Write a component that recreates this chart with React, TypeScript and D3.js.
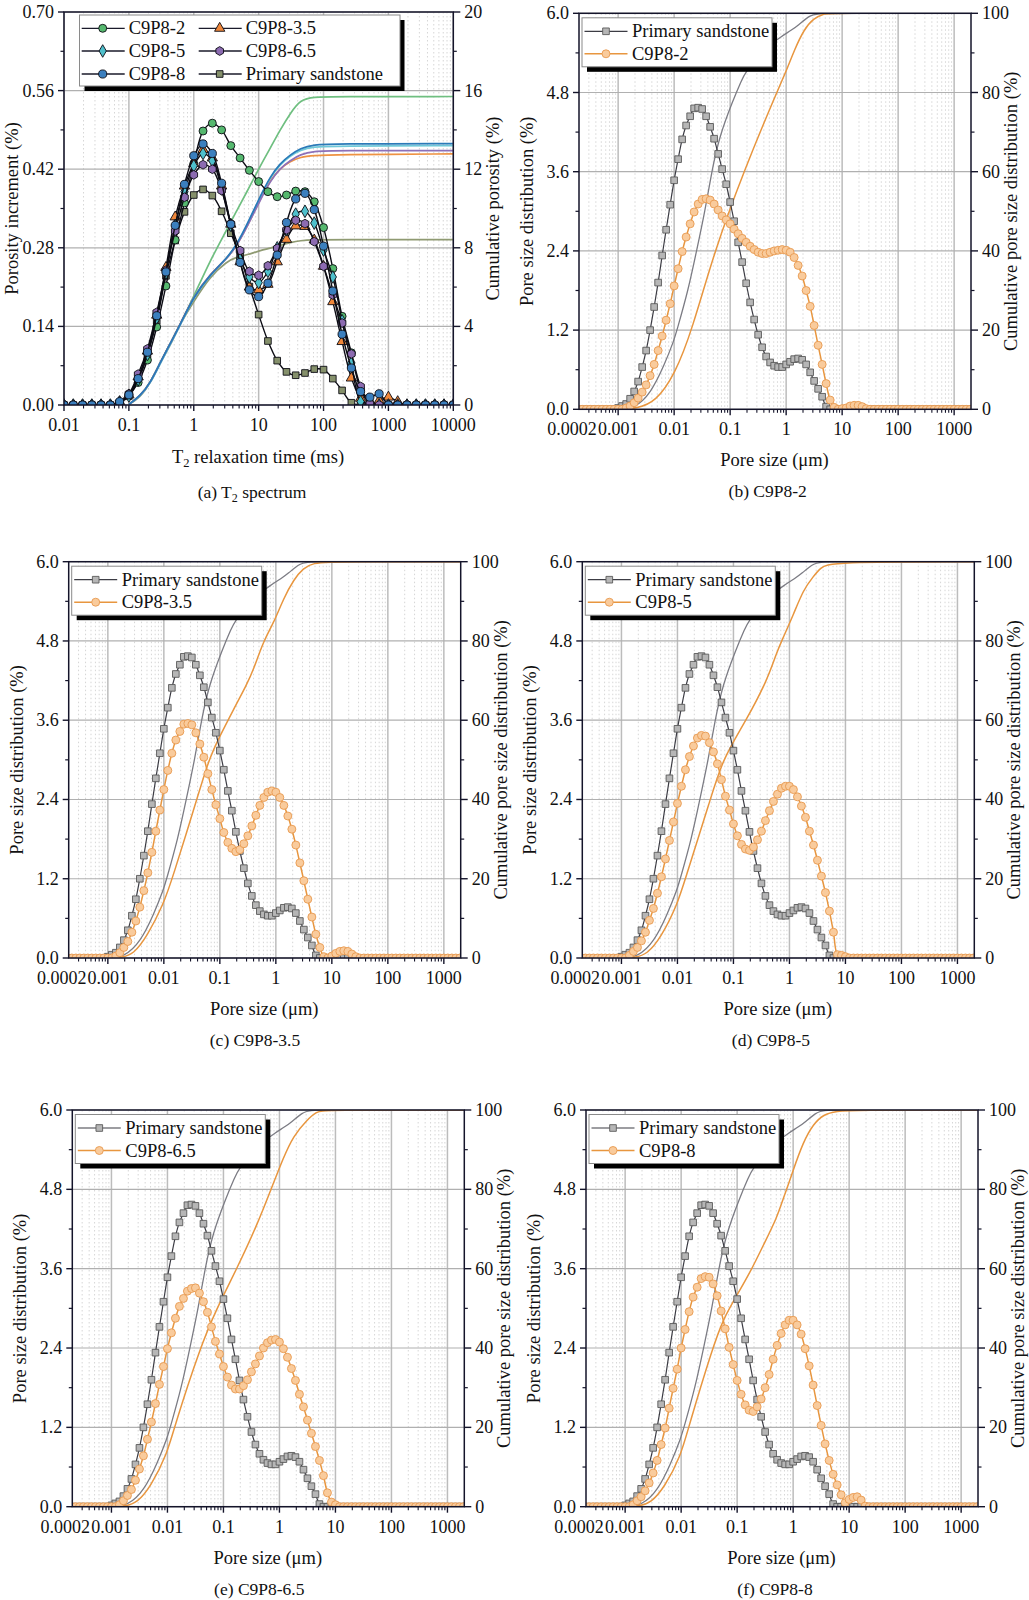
import React from "react";
import * as d3 from "d3";

// ---------- Panel (a) T2 spectrum ----------
const t2LogTime = [
  -2, -1.857, -1.714, -1.571, -1.429, -1.286, -1.143, -1, -0.857, -0.714, -0.571, -0.429, -0.286, -0.143,
  0, 0.143, 0.286, 0.429, 0.571, 0.714, 0.857, 1, 1.143, 1.286, 1.429, 1.571, 1.714, 1.857,
  2, 2.143, 2.286, 2.429, 2.571, 2.714, 2.857, 3, 3.143, 3.286, 3.429, 3.571, 3.714, 3.857, 4,
];
const incPrimary = [0,0,0,0,0,0,.004,.016,.045,.09,.15,.23,.293,.344,.374,.384,.373,.345,.306,.265,.211,.161,.114,.079,.059,.053,.057,.064,.063,.047,.026,.004,0,0,0,0,0,0,0,0,0,0,0];
const inc2 = [0,0,0,0,0,0,.005,.018,.04,.08,.139,.212,.294,.36,.43,.488,.502,.49,.462,.44,.418,.398,.38,.371,.374,.381,.38,.362,.316,.243,.158,.093,.027,.004,0,0,0,0,0,0,0,0,0];
const inc35 = [0,0,0,0,0,0,.006,.018,.05,.096,.16,.245,.335,.39,.43,.455,.44,.39,.322,.255,.21,.205,.215,.255,.295,.319,.318,.294,.247,.184,.113,.048,.012,0,.008,.014,.006,0,0,0,0,0,0];
const inc5 = [0,0,0,0,0,0,.005,.016,.045,.09,.155,.235,.32,.38,.426,.448,.435,.385,.32,.26,.228,.218,.238,.28,.312,.34,.345,.324,.276,.228,.15,.075,.006,0,0,0,0,0,0,0,0,0,0];
const inc65 = [0,0,0,0,0,0,.005,.02,.055,.1,.165,.24,.31,.37,.41,.428,.42,.382,.323,.275,.238,.231,.248,.279,.312,.329,.323,.291,.247,.196,.146,.091,.033,.002,0,0,0,0,0,0,0,0,0];
const inc8 = [0,0,0,0,0,0,.006,.018,.047,.094,.159,.237,.32,.393,.444,.465,.448,.395,.322,.254,.205,.193,.217,.267,.325,.367,.377,.348,.283,.203,.126,.066,.024,.014,.02,0,0,0,0,0,0,0,0];

const cumT2Log = [-1,-.83,-.67,-.52,-.36,-.21,0,.25,.51,.66,.82,1.02,1.18,1.33,1.49,1.64,1.85,2.16,4];
const cumT2Primary = [.03,.36,1.12,2.14,3.03,4.15,5.27,6.54,7.3,7.53,7.64,7.86,7.98,8.12,8.27,8.37,8.41,8.42,8.42];
const cumT22 = [.03,.44,1.12,2.14,3.15,4.1,5.53,7.34,8.92,9.88,10.85,12.14,13.07,14,14.85,15.53,15.68,15.69,15.7];
const cumT235 = [.03,.44,1.12,2.14,3.15,4.1,5.55,6.65,7.45,8.1,9.08,10.45,11.45,12.05,12.4,12.62,12.7,12.74,12.78];
const cumT25 = [.03,.42,1.08,2.08,3.1,4.05,5.5,6.6,7.45,8.12,9.12,10.55,11.58,12.25,12.68,12.98,13.15,13.18,13.2];
const cumT265 = [.03,.44,1.12,2.14,3.15,4.1,5.55,6.65,7.45,8.08,9.05,10.4,11.4,12.05,12.45,12.75,12.92,12.95,12.95];
const cumT28 = [.03,.44,1.12,2.14,3.15,4.08,5.53,6.63,7.47,8.15,9.17,10.6,11.63,12.3,12.73,13.07,13.25,13.29,13.3];

// ---------- Panels (b)-(f) pore size ----------
const poreLogSize = [
  -3.714,-3.643,-3.571,-3.5,-3.429,-3.357,-3.286,-3.214,-3.143,-3.071,
  -3,-2.929,-2.857,-2.786,-2.714,-2.643,-2.571,-2.5,-2.429,-2.357,
  -2.286,-2.214,-2.143,-2.071,-2,-1.929,-1.857,-1.786,-1.714,-1.643,
  -1.571,-1.5,-1.429,-1.357,-1.286,-1.214,-1.143,-1.071,-1,-.929,
  -.857,-.786,-.714,-.643,-.571,-.5,-.429,-.357,-.286,-.214,
  -.143,-.071,0,.071,.143,.214,.286,.357,.429,.5,
  .571,.643,.714,.786,.857,.929,1,1.071,1.143,1.214,
  1.286,1.357,1.429,1.5,1.571,1.643,1.714,1.786,1.857,1.929,
  2,2.071,2.143,2.214,2.286,2.357,2.429,2.5,2.571,2.643,
  2.714,2.786,2.857,2.929,3,3.071,3.143,3.214,3.286,
];
const psdPrimary = [
  0,0,0,0,0,0,0,0,0,0,
  .02,.05,.08,.16,.27,.42,.64,.89,1.2,1.55,
  1.92,2.33,2.72,3.1,3.47,3.79,4.09,4.3,4.44,4.56,
  4.57,4.55,4.44,4.28,4.1,3.87,3.64,3.41,3.14,2.85,
  2.53,2.23,1.91,1.62,1.36,1.13,.94,.8,.71,.66,
  .64,.64,.68,.72,.76,.77,.75,.68,.56,.43,
  .31,.19,.04,0,0,0,0,0,0,0,
  0,0,0,0,0,0,0,0,0,0,
  0,0,0,0,0,0,0,0,0,0,
  0,0,0,0,0,0,0,0,0,
];
const psd2 = [
  0,0,0,0,0,0,0,0,0,0,
  0,0,.02,.05,.1,.17,.26,.37,.51,.68,
  .89,1.11,1.35,1.6,1.87,2.13,2.39,2.61,2.81,2.99,
  3.11,3.18,3.19,3.17,3.11,3.02,2.93,2.87,2.81,2.73,
  2.66,2.59,2.53,2.47,2.42,2.38,2.36,2.36,2.38,2.4,
  2.41,2.42,2.41,2.38,2.3,2.18,2.02,1.8,1.56,1.27,
  .97,.68,.39,.14,.03,0,.01,.02,.05,.06,
  .06,.04,.01,0,0,0,0,0,0,0,
  0,0,0,0,0,0,0,0,0,0,
  0,0,0,0,0,0,0,0,0,
];
const psd35 = [
  0,0,0,0,0,0,0,0,0,0,
  0,0,.03,.08,.16,.25,.39,.56,.77,1.02,
  1.29,1.6,1.92,2.24,2.55,2.84,3.1,3.3,3.43,3.54,
  3.55,3.53,3.41,3.24,3.04,2.79,2.55,2.32,2.11,1.9,
  1.75,1.66,1.61,1.64,1.73,1.85,2,2.16,2.31,2.43,
  2.51,2.53,2.51,2.43,2.31,2.15,1.95,1.71,1.44,1.17,
  .89,.62,.36,.16,.02,0,.03,.07,.1,.11,
  .1,.06,.02,0,0,0,0,0,0,0,
  0,0,0,0,0,0,0,0,0,0,
  0,0,0,0,0,0,0,0,0,
];
const psd5 = [
  0,0,0,0,0,0,0,0,0,0,
  0,0,.04,.1,.16,.26,.39,.57,.75,.98,
  1.23,1.5,1.78,2.06,2.34,2.6,2.85,3.05,3.21,3.33,
  3.37,3.36,3.26,3.12,2.94,2.7,2.45,2.24,2.03,1.85,
  1.72,1.65,1.63,1.68,1.79,1.92,2.08,2.23,2.37,2.48,
  2.57,2.6,2.6,2.55,2.44,2.3,2.13,1.92,1.71,1.48,
  1.24,.99,.71,.39,.05,.04,.02,0,0,0,
  0,0,0,0,0,0,0,0,0,0,
  0,0,0,0,0,0,0,0,0,0,
  0,0,0,0,0,0,0,0,0,
];
const psd65 = [
  0,0,0,0,0,0,0,0,0,0,
  0,0,.03,.09,.17,.26,.4,.57,.77,1.02,
  1.28,1.56,1.85,2.12,2.39,2.63,2.85,3.03,3.15,3.26,
  3.3,3.31,3.23,3.1,2.94,2.72,2.5,2.31,2.12,1.96,
  1.84,1.78,1.78,1.83,1.92,2.04,2.16,2.28,2.4,2.48,
  2.52,2.53,2.49,2.39,2.26,2.09,1.91,1.7,1.51,1.31,
  1.11,.91,.7,.47,.21,.07,.03,0,0,0,
  0,0,0,0,0,0,0,0,0,0,
  0,0,0,0,0,0,0,0,0,0,
  0,0,0,0,0,0,0,0,0,
];
const psd8 = [
  0,0,0,0,0,0,0,0,0,0,
  0,0,.03,.09,.15,.24,.36,.51,.7,.94,
  1.19,1.49,1.79,2.08,2.4,2.68,2.95,3.17,3.32,3.45,
  3.48,3.47,3.37,3.19,2.96,2.69,2.41,2.15,1.91,1.7,
  1.54,1.46,1.44,1.51,1.63,1.8,2,2.23,2.44,2.62,
  2.75,2.82,2.82,2.75,2.61,2.39,2.13,1.84,1.53,1.23,
  .95,.7,.49,.33,.18,.06,.11,.14,.15,.1,
  .01,0,0,0,0,0,0,0,0,0,
  0,0,0,0,0,0,0,0,0,0,
  0,0,0,0,0,0,0,0,0,
];

const cumPrimaryLog = [-3.3,-3,-2.7,-2.42,-2.18,-2,-1.95,-1.75,-1.6,-1.45,-1.33,-1.19,-.95,-.8,-.72,-.5,-.3,-.1,.1,.22,.4,.55,1,3.3,3.3];
const cumPrimary = [0,0,.3,4,11,17.5,20,30,40,50,60,69,78,83,85.3,89,92,94,95.8,97,99.3,100,100,100,100];
const cum2Log = [-3.3,-3,-2.66,-2.33,-1.99,-1.68,-1.28,-.76,-.17,.02,.14,.32,.49,.67,.79,3.3,3.3];
const cum2 = [0,0,.2,1.9,8.7,20,40,60,80,86,90.5,96,98.7,99.9,100,100,100];
const cum35Log = [-3.3,-3,-2.75,-2.54,-2.3,-2,-1.85,-1.41,-1.2,-1,-.76,-.52,-.4,-.22,-.04,.14,.32,.49,.67,.97,1.27,3.3,3.3];
const cum35 = [0,0,.1,1,5.4,13.8,20,40,50,56,62.6,69,72.7,80,84.5,90.8,95.5,98.4,99.7,99.9,100,100,100];
const cum5Log = [-3.3,-3,-2.75,-2.54,-2.3,-2,-1.86,-1.41,-1.2,-.77,-.4,-.23,-.14,.07,.25,.43,.55,.73,3.3,3.3];
const cum5 = [0,0,.1,1,5,13.5,20,40,50,60,70,77,80,86.6,93,96.3,98.4,100,100,100];
const cum65Log = [-3.3,-3,-2.75,-2.54,-2.3,-2,-1.88,-1.42,-1.12,-.76,-.4,-.15,.07,.25,.49,.67,.79,3.3,3.3];
const cum65 = [0,0,.1,1,5,13.5,20,40,50,60,71,80,88,93.5,97.5,99.6,100,100,100];
const cum8Log = [-3.3,-3,-2.75,-2.54,-2.3,-2,-1.87,-1.44,-1.24,-1,-.77,-.53,-.29,-.17,-.09,-.02,.18,.36,.54,.78,1.08,3.3,3.3];
const cum8 = [0,0,.1,1,4.8,13,20,40,47.6,53.4,59,66,72.8,78,81,84,92,96.4,98.9,99.7,100,100,100];

const psdTicks = [0, 1.2, 2.4, 3.6, 4.8, 6.0];
const psdMinor = [0.6, 1.8, 3, 4.2, 5.4];
const pctTicks = [0, 20, 40, 60, 80, 100];
const pctMinor = [10, 30, 50, 70, 90];
const poreDecades = [0.001, 0.01, 0.1, 1, 10, 100, 1000];
const poreLabels = ["0.001", "0.01", "0.1", "1", "10", "100", "1000"];
const incTicks = [0, 0.14, 0.28, 0.42, 0.56, 0.7];
const incMinor = [0.07, 0.21, 0.35, 0.49, 0.63];
const cumPorTicks = [0, 4, 8, 12, 16, 20];
const cumPorMinor = [2, 6, 10, 14, 18];
const t2Decades = [0.01, 0.1, 1, 10, 100, 1000, 10000];
const t2Labels = ["0.01", "0.1", "1", "10", "100", "1000", "10000"];

const FONT = "'Liberation Serif','Times New Roman',serif";
const AX = "#14142a";

function minors(lo: number, hi: number) {
  const out: number[] = [];
  for (let e = Math.floor(Math.log10(lo)); e <= Math.ceil(Math.log10(hi)); e++) {
    for (const m of [2, 3, 4, 5, 6, 7, 8, 9]) {
      const v = m * 10 ** e;
      if (v > lo * 1.0001 && v < hi * 0.9999) out.push(v);
    }
  }
  return out;
}

const hexagon = {
  draw(ctx: any, size: number) {
    const r = Math.sqrt(size / 2.6);
    for (let k = 0; k < 6; k++) {
      const a = (k * Math.PI) / 3 - Math.PI / 2;
      const px = r * Math.cos(a), py = r * Math.sin(a);
      if (k === 0) ctx.moveTo(px, py); else ctx.lineTo(px, py);
    }
    ctx.closePath();
  },
};
const sym = (type: any, size: number) => d3.symbol().type(type).size(size)() as string;

function Frame(p: {
  id: string; left: number; right: number; top: number; bottom: number;
  x: any; yL: any; yR: any; decades: number[]; labels: string[]; domain: [number, number];
  lTicks: number[]; lMinor: number[]; rTicks: number[]; rMinor: number[]; lFmt: (v: number) => string;
  children: React.ReactNode;
}) {
  const { left, right, top, bottom, x, yL, yR } = p;
  const ms = minors(p.domain[0], p.domain[1]);
  return (
    <g>
      <clipPath id={p.id}><rect x={left} y={top} width={right - left} height={bottom - top} /></clipPath>
      {ms.map((v) => <line key={v} x1={x(v)} x2={x(v)} y1={top} y2={bottom} stroke="#d6d6d6" strokeWidth={1} strokeDasharray="1.5 2.5" />)}
      {p.decades.map((v) => <line key={v} x1={x(v)} x2={x(v)} y1={top} y2={bottom} stroke="#bcbcbc" strokeWidth={1.5} />)}
      {p.lTicks.map((v) => <line key={v} x1={left} x2={right} y1={yL(v)} y2={yL(v)} stroke="#b0b0b0" strokeWidth={1.2} />)}
      <g clipPath={`url(#${p.id})`}>{p.children}</g>
      <rect x={left} y={top} width={right - left} height={bottom - top} fill="none" stroke={AX} strokeWidth={1.5} />
      {p.lTicks.map((v) => (
        <g key={v}>
          <line x1={left - 6} x2={left} y1={yL(v)} y2={yL(v)} stroke={AX} strokeWidth={1.4} />
          <text x={left - 10} y={yL(v) + 6} textAnchor="end" fontSize={18} fontFamily={FONT} fill="#111">{p.lFmt(v)}</text>
        </g>
      ))}
      {p.lMinor.map((v) => <line key={v} x1={left - 3.5} x2={left} y1={yL(v)} y2={yL(v)} stroke={AX} strokeWidth={1.2} />)}
      {p.rTicks.map((v) => (
        <g key={v}>
          <line x1={right} x2={right + 7} y1={yR(v)} y2={yR(v)} stroke={AX} strokeWidth={1.4} />
          <text x={right + 11} y={yR(v) + 6} fontSize={18} fontFamily={FONT} fill="#111">{v}</text>
        </g>
      ))}
      {p.rMinor.map((v) => <line key={v} x1={right} x2={right + 3.5} y1={yR(v)} y2={yR(v)} stroke={AX} strokeWidth={1.2} />)}
      {p.decades.map((v, i) => (
        <g key={v}>
          <line x1={x(v)} x2={x(v)} y1={bottom} y2={bottom + 6} stroke={AX} strokeWidth={1.4} />
          <text x={x(v)} y={bottom + 26} textAnchor="middle" fontSize={18} fontFamily={FONT} fill="#111">{p.labels[i]}</text>
        </g>
      ))}
      {ms.map((v) => <line key={v} x1={x(v)} x2={x(v)} y1={bottom} y2={bottom + 3.5} stroke={AX} strokeWidth={1.1} />)}
    </g>
  );
}

function Panel(p: {
  id: string; left: number; top: number; bottom: number; name: string; caption: string; capDx: number;
  psd: number[]; cumLog: number[]; cum: number[];
}) {
  const { left, top, bottom } = p;
  const right = left + 392;
  const x = d3.scaleLog().domain([0.0002, 2000]).range([left, right]);
  const yL = d3.scaleLinear().domain([0, 6]).range([bottom, top]);
  const yR = d3.scaleLinear().domain([0, 100]).range([bottom, top]);
  const psdLine = d3.line<number>().x((_, i) => x(10 ** poreLogSize[i])).y((d) => yL(d)).curve(d3.curveCatmullRom);
  const cumLine = (xs: number[], ys: number[]) =>
    d3.line<number>().x((_, i) => x(10 ** xs[i])).y((d) => yR(d)).curve(d3.curveBasis)(ys) as string;
  const square = sym(d3.symbolSquare, 44);
  const circle = sym(d3.symbolCircle, 50);
  const cy = (top + bottom) / 2;
  const lx = left + 3, ly = top + 4.5;
  return (
    <g>
      <Frame id={p.id} left={left} right={right} top={top} bottom={bottom} x={x} yL={yL} yR={yR}
        decades={poreDecades} labels={poreLabels} domain={[0.0002, 2000]}
        lTicks={psdTicks} lMinor={psdMinor} rTicks={pctTicks} rMinor={pctMinor} lFmt={(v) => v.toFixed(1)}>
        <path d={cumLine(cumPrimaryLog, cumPrimary)} fill="none" stroke="#7c7c84" strokeWidth={1.3} />
        <path d={cumLine(p.cumLog, p.cum)} fill="none" stroke="#e8963f" strokeWidth={1.5} />
        <path d={psdLine(psdPrimary) as string} fill="none" stroke="#3c3c44" strokeWidth={1.2} />
        {psdPrimary.map((d, i) => (
          <path key={i} d={square} transform={`translate(${x(10 ** poreLogSize[i])},${yL(d)})`} fill="#b6b6b6" stroke="#5a5a5a" strokeWidth={0.9} />
        ))}
        <path d={psdLine(p.psd) as string} fill="none" stroke="#e8963f" strokeWidth={1.5} />
        {p.psd.map((d, i) => (
          <path key={i} d={circle} transform={`translate(${x(10 ** poreLogSize[i])},${yL(d)})`} fill="#f9cb9c" stroke="#e89a50" strokeWidth={0.9} />
        ))}
      </Frame>
      <text transform={`translate(${left - 46},${cy}) rotate(-90)`} textAnchor="middle" fontSize={18.5} fontFamily={FONT} fill="#111">Pore size distribution (%)</text>
      <text transform={`translate(${right + 46},${cy}) rotate(-90)`} textAnchor="middle" fontSize={18.5} fontFamily={FONT} fill="#111">Cumulative pore size distribution (%)</text>
      <text x={x(0.0002) - 7} y={bottom + 26} textAnchor="middle" fontSize={18} fontFamily={FONT} fill="#111">0.0002</text>
      <text x={left + 195.5} y={bottom + 57} textAnchor="middle" fontSize={18.5} fontFamily={FONT} fill="#111">Pore size (μm)</text>
      <text x={left + p.capDx} y={bottom + 88} textAnchor="middle" fontSize={17.5} fontFamily={FONT} fill="#111">{p.caption}</text>
      <rect x={lx + 5} y={ly + 5} width={190} height={49} fill="#000" />
      <rect x={lx} y={ly} width={190} height={49} fill="#fff" stroke="#8a8a8a" strokeWidth={1} />
      <line x1={lx + 2.5} x2={lx + 45.5} y1={ly + 13.5} y2={ly + 13.5} stroke="#3c3c44" strokeWidth={1.2} />
      <path d={square} transform={`translate(${lx + 24},${ly + 13.5})`} fill="#b6b6b6" stroke="#5a5a5a" strokeWidth={0.9} />
      <text x={lx + 50} y={ly + 19.5} fontSize={18.5} fontFamily={FONT} fill="#111">Primary sandstone</text>
      <line x1={lx + 2.5} x2={lx + 45.5} y1={ly + 36} y2={ly + 36} stroke="#e8963f" strokeWidth={1.5} />
      <path d={circle} transform={`translate(${lx + 24},${ly + 36})`} fill="#f9cb9c" stroke="#e89a50" strokeWidth={0.9} />
      <text x={lx + 50} y={ly + 42} fontSize={18.5} fontFamily={FONT} fill="#111">{p.name}</text>
    </g>
  );
}

const spectra = [
  { name: "Primary sandstone", inc: incPrimary, cum: cumT2Primary, fill: "#85906b", line: "#8f9a72", type: d3.symbolSquare, size: 44, col: 1, row: 2 },
  { name: "C9P8-2", inc: inc2, cum: cumT22, fill: "#55b86e", line: "#6fbf80", type: d3.symbolCircle, size: 50, col: 0, row: 0 },
  { name: "C9P8-3.5", inc: inc35, cum: cumT235, fill: "#f0873a", line: "#ee9242", type: d3.symbolTriangle, size: 46, col: 1, row: 0 },
  { name: "C9P8-5", inc: inc5, cum: cumT25, fill: "#4fc0cc", line: "#6fc8d8", type: d3.symbolDiamond, size: 46, col: 0, row: 1 },
  { name: "C9P8-6.5", inc: inc65, cum: cumT265, fill: "#8c6bb1", line: "#8d70b8", type: hexagon, size: 50, col: 1, row: 1 },
  { name: "C9P8-8", inc: inc8, cum: cumT28, fill: "#3b7fbe", line: "#2a7ab8", type: d3.symbolCircle, size: 52, col: 0, row: 2 },
];

function PanelA() {
  const left = 64, right = 453.3, top = 12, bottom = 405;
  const x = d3.scaleLog().domain([0.01, 10000]).range([left, right]);
  const yL = d3.scaleLinear().domain([0, 0.7]).range([bottom, top]);
  const yR = d3.scaleLinear().domain([0, 20]).range([bottom, top]);
  const incLine = d3.line<number>().x((_, i) => x(10 ** t2LogTime[i])).y((d) => yL(d)).curve(d3.curveCatmullRom);
  const cumLine = d3.line<number>().x((_, i) => x(10 ** cumT2Log[i])).y((d) => yR(d)).curve(d3.curveBasis);
  const cols = [81.7, 198.7];
  const rows = [28.3, 51, 74];
  return (
    <g>
      <Frame id="clipA" left={left} right={right} top={top} bottom={bottom} x={x} yL={yL} yR={yR}
        decades={t2Decades} labels={t2Labels} domain={[0.01, 10000]}
        lTicks={incTicks} lMinor={incMinor} rTicks={cumPorTicks} rMinor={cumPorMinor} lFmt={(v) => v.toFixed(2)}>
        {spectra.map((s) => <path key={s.name} d={cumLine(s.cum) as string} fill="none" stroke={s.line} strokeWidth={1.7} />)}
        {spectra.map((s) => (
          <g key={s.name}>
            <path d={incLine(s.inc) as string} fill="none" stroke="#0c0c14" strokeWidth={1.4} />
            {s.inc.map((d, i) => (
              <path key={i} d={sym(s.type, s.size)} transform={`translate(${x(10 ** t2LogTime[i])},${yL(d)})`} fill={s.fill} stroke="#0c0c14" strokeWidth={0.9} />
            ))}
          </g>
        ))}
      </Frame>
      <text transform={`translate(18,208.5) rotate(-90)`} textAnchor="middle" fontSize={18.5} fontFamily={FONT} fill="#111">Porosity increment (%)</text>
      <text transform={`translate(499,208.5) rotate(-90)`} textAnchor="middle" fontSize={18.5} fontFamily={FONT} fill="#111">Cumulative porosity (%)</text>
      <text x={258} y={463} textAnchor="middle" fontSize={18.5} fontFamily={FONT} fill="#111">
        T<tspan fontSize={12.5} dy={4}>2</tspan><tspan dy={-4}> relaxation time (ms)</tspan>
      </text>
      <text x={252} y={498} textAnchor="middle" fontSize={17.5} fontFamily={FONT} fill="#111">
        (a) T<tspan fontSize={12} dy={3.5}>2</tspan><tspan dy={-3.5}> spectrum</tspan>
      </text>
      <rect x={84.5} y={20} width={320} height={71} fill="#000" />
      <rect x={79.5} y={15} width={320.5} height={71} fill="#fff" stroke="#8a8a8a" strokeWidth={1} />
      {spectra.map((s) => {
        const lx = cols[s.col], ly = rows[s.row];
        return (
          <g key={s.name}>
            <line x1={lx} x2={lx + 43} y1={ly} y2={ly} stroke="#1a1a2a" strokeWidth={1.3} />
            <path d={sym(s.type, s.size)} transform={`translate(${lx + 21},${ly})`} fill={s.fill} stroke="#0c0c14" strokeWidth={0.9} />
            <text x={lx + 47} y={ly + 6} fontSize={18.5} fontFamily={FONT} fill="#111">{s.name}</text>
          </g>
        );
      })}
    </g>
  );
}

export default function App() {
  return (
    <svg width={1029} height={1600} viewBox="0 0 1029 1600" style={{ position: "absolute", left: 0, top: 0, background: "#fff" }}>
      <PanelA />
      <Panel id="clipB" left={579} top={13.3} bottom={409.3} name="C9P8-2" caption="(b) C9P8-2" capDx={188.7} psd={psd2} cumLog={cum2Log} cum={cum2} />
      <Panel id="clipC" left={68.7} top={561.7} bottom={958} name="C9P8-3.5" caption="(c) C9P8-3.5" capDx={186.3} psd={psd35} cumLog={cum35Log} cum={cum35} />
      <Panel id="clipD" left={582.3} top={561.7} bottom={958} name="C9P8-5" caption="(d) C9P8-5" capDx={188.7} psd={psd5} cumLog={cum5Log} cum={cum5} />
      <Panel id="clipE" left={72.3} top={1110} bottom={1506.7} name="C9P8-6.5" caption="(e) C9P8-6.5" capDx={187} psd={psd65} cumLog={cum65Log} cum={cum65} />
      <Panel id="clipF" left={586} top={1110} bottom={1506.7} name="C9P8-8" caption="(f) C9P8-8" capDx={189} psd={psd8} cumLog={cum8Log} cum={cum8} />
    </svg>
  );
}
